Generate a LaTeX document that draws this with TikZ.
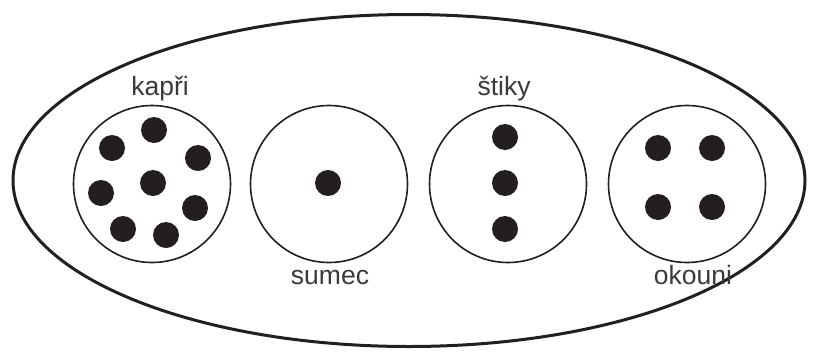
\documentclass[tikz,border=0pt]{standalone}
\usepackage{fontspec}
\setmainfont{Liberation Sans}
\definecolor{ink}{HTML}{231F20}
\definecolor{txt}{HTML}{3A3A3A}
\begin{document}
\begin{tikzpicture}[x=1pt,y=-1pt,
  set/.style={circle,draw=ink,line width=1.6pt,minimum size=157pt,inner sep=0pt},
  dot/.style={circle,fill=ink,minimum size=26pt,inner sep=0pt},
  lbl/.style={text=txt,font=\fontsize{26.5}{31}\selectfont,inner sep=0pt}]
\useasboundingbox (0,0) rectangle (816,354);
\draw[ink,line width=3pt] (409,180.5) ellipse [x radius=396, y radius=166];
\node[set] (c1) at (152,184) {};
\node[set] (c2) at (329,184) {};
\node[set] (c3) at (508,184) {};
\node[set] (c4) at (687,184) {};
% kapri
\node[dot] (k1) at (154,130) {};
\node[dot] (k2) at (112,148) {};
\node[dot] (k3) at (198,158) {};
\node[dot] (k4) at (153,183) {};
\node[dot] (k5) at (101,193) {};
\node[dot] (k6) at (195,208) {};
\node[dot] (k7) at (123,229) {};
\node[dot] (k8) at (166,235) {};
% sumec
\node[dot] (s1) at (328,183) {};
% stiky
\node[dot] (t1) at (505,137) {};
\node[dot] (t2) at (505,183) {};
\node[dot] (t3) at (505,229) {};
% okouni
\node[dot] (o1) at (658,148) {};
\node[dot] (o2) at (712,148) {};
\node[dot] (o3) at (658,207) {};
\node[dot] (o4) at (712,207) {};
% labels
\node[lbl,anchor=base] (l1) at (160,95) {kapři};
\node[lbl,anchor=base] (l2) at (330,284) {sumec};
\node[lbl,anchor=base] (l3) at (504,95) {štiky};
\node[lbl,anchor=base] (l4) at (693,284) {okouni};
\end{tikzpicture}
\end{document}
